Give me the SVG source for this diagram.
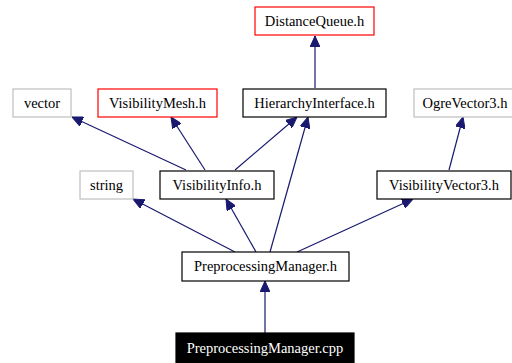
<svg xmlns="http://www.w3.org/2000/svg" width="512" height="363" viewBox="0 0 512 363">
<style>
.n rect{fill:#fff;stroke:#000;stroke-width:1.2}
.n.red rect{stroke:#ff0000}
.n.gray rect{stroke:#bfbfbf}
.n.dark rect{fill:#000;stroke:#000}
text{font-family:'Liberation Serif','Times New Roman','DejaVu Serif',serif;font-size:14.5px;text-anchor:middle;fill:#000}
.n.dark text{fill:#fff}
#edges line{stroke:#191970;stroke-width:1.2;marker-end:url(#ah)}
</style>
<defs>
<marker id="ah" viewBox="0 0 11 10" refX="11" refY="5" markerWidth="11" markerHeight="10" markerUnits="userSpaceOnUse" orient="auto">
<path d="M0,0 L11,5 L0,10 Z" fill="#191970" stroke="#191970"/>
</marker>
</defs>
<rect width="512" height="363" fill="#fff"/>
<g id="edges">
<line x1="315" y1="88" x2="315" y2="36"/>
<line x1="186" y1="170" x2="72" y2="117"/>
<line x1="205" y1="170" x2="171" y2="117"/>
<line x1="235" y1="170" x2="297" y2="117"/>
<line x1="270" y1="252" x2="308" y2="117"/>
<line x1="449" y1="170" x2="463" y2="117"/>
<line x1="235" y1="252" x2="133" y2="199"/>
<line x1="256" y1="252" x2="226" y2="199"/>
<line x1="297" y1="252" x2="413" y2="199"/>
<line x1="265" y1="333" x2="265" y2="281"/>
</g>
<g id="DistanceQueue" class="n red"><rect x="255" y="7" width="119" height="28"/><text x="314.5" y="26">DistanceQueue.h</text></g>
<g id="vector" class="n gray"><rect x="13" y="89" width="58" height="28"/><text x="42" y="108">vector</text></g>
<g id="VisibilityMesh" class="n red"><rect x="98" y="89" width="119" height="28"/><text x="157.5" y="108">VisibilityMesh.h</text></g>
<g id="HierarchyInterface" class="n"><rect x="243" y="89" width="143" height="28"/><text x="314.5" y="108">HierarchyInterface.h</text></g>
<g id="OgreVector3" class="n gray"><rect x="414" y="89" width="110" height="28"/><text x="465" y="108">OgreVector3.h</text></g>
<g id="string" class="n gray"><rect x="80" y="171" width="53" height="28"/><text x="106.5" y="190">string</text></g>
<g id="VisibilityInfo" class="n"><rect x="160" y="171" width="114" height="28"/><text x="217" y="190">VisibilityInfo.h</text></g>
<g id="VisibilityVector3" class="n"><rect x="377" y="171" width="134" height="28"/><text x="444" y="190">VisibilityVector3.h</text></g>
<g id="PreprocessingManagerH" class="n"><rect x="182" y="252" width="167" height="29"/><text x="265.5" y="271">PreprocessingManager.h</text></g>
<g id="PreprocessingManagerCpp" class="n dark"><rect x="176" y="333" width="178" height="30"/><text x="265" y="353">PreprocessingManager.cpp</text></g>
</svg>
